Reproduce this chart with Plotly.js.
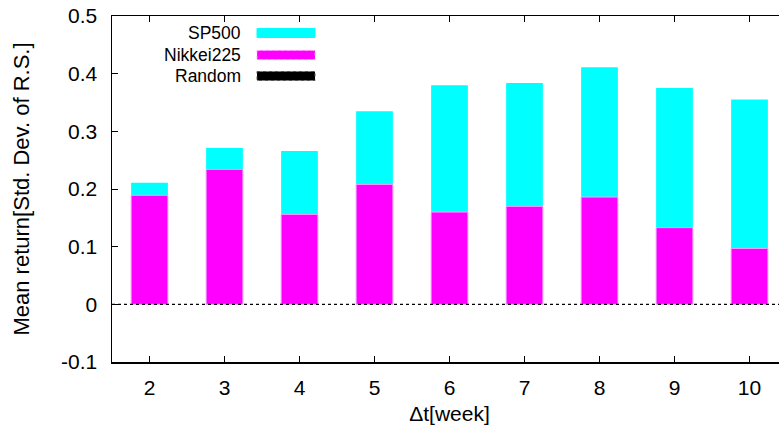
<!DOCTYPE html>
<html>
<head>
<meta charset="utf-8">
<script src="https://cdn.plot.ly/plotly-3.0.1.min.js"></script>
<style>
html, body { margin: 0; padding: 0; overflow: hidden; background: #ffffff; }
#chart { width: 787px; height: 432px; }
</style>
</head>
<body>
<div id="chart"></div>
<script>
// ---- data ----
const weeks = [2, 3, 4, 5, 6, 7, 8, 9, 10];
const sp500 = [0.211, 0.271, 0.266, 0.335, 0.380, 0.384, 0.411, 0.375, 0.355];
const nikkei225 = [0.189, 0.234, 0.156, 0.208, 0.160, 0.170, 0.186, 0.133, 0.097];
const random = [0, 0, 0, 0, 0, 0, 0, 0, 0];
const seriesNames = ["SP500", "Nikkei225", "Random"];
const yTicks = [-0.1, 0, 0.1, 0.2, 0.3, 0.4, 0.5];
const yTickLabels = ["-0.1", "0", "0.1", "0.2", "0.3", "0.4", "0.5"];

// ---- geometry helpers (pixel -> paper) ----
const W = 787, H = 432, ML = 112, MR = 0, MT = 16, MB = 70;
const PW = W - ML - MR, PH = H - MT - MB;
const fx = px => (px - ML) / PW;
const fy = py => 1 - (py - MT) / PH;

const FONT = "Liberation Sans, Arial, Helvetica, sans-serif";
const CYAN = "#00ffff", MAGENTA = "#ff00ff";

const traces = [
  { type: "bar", name: seriesNames[0], x: weeks, y: sp500, width: 0.49,
    marker: { color: CYAN, line: { width: 0 } } },
  { type: "bar", name: seriesNames[1], x: weeks, y: nikkei225, width: 0.49,
    marker: { color: MAGENTA, line: { color: "#ff9cff", width: 1 } } },
  { type: "bar", name: seriesNames[2], x: weeks, y: random, width: 0.49,
    marker: { color: "#000000", line: { width: 0 } } }
];

// custom gnuplot-style legend (text on left, sample on right)
const legendRows = [
  { y: 33, fill: CYAN, line: CYAN, dash: "solid" },
  { y: 55, fill: MAGENTA, line: "#ff9cff", dash: "dot" },
  { y: 76, fill: "#000000", line: "#555555", dash: "dot" }
];
const annotations = legendRows.map((r, i) => ({
  xref: "paper", yref: "paper", x: fx(243), y: fy(r.y),
  xanchor: "right", yanchor: "middle", showarrow: false,
  text: seriesNames[i], font: { family: FONT, size: 17.5, color: "#000" }
}));
const shapes = legendRows.map(r => ({
  type: "rect", xref: "paper", yref: "paper",
  x0: fx(257), x1: fx(315), y0: fy(r.y - 4.5), y1: fy(r.y + 4.5),
  fillcolor: r.fill, line: { color: r.line, width: 1, dash: r.dash }
}));
// dotted zero axis
shapes.push({
  type: "line", xref: "paper", yref: "y", x0: 0, x1: 1, y0: 0, y1: 0,
  line: { color: "#000", width: 1.2, dash: "dot" }, layer: "above"
});

const layout = {
  width: W, height: H,
  margin: { l: ML, r: MR, t: MT, b: MB, pad: 0 },
  paper_bgcolor: "#fff", plot_bgcolor: "#fff",
  barmode: "overlay",
  showlegend: false,
  font: { family: FONT, size: 21, color: "#000" },
  xaxis: {
    range: [1.5, 10.5], tickmode: "array", tickvals: weeks,
    ticktext: weeks.map(String),
    ticks: "inside", ticklen: 6, tickwidth: 1, tickcolor: "#000",
    showline: true, linecolor: "#000", linewidth: 1.5, mirror: "ticks",
    showgrid: false, zeroline: false,
    ticklabelstandoff: 6,
    tickfont: { family: FONT, size: 21 },
    title: { text: "\u0394t[week]", font: { family: FONT, size: 21 }, standoff: 8 }
  },
  yaxis: {
    range: [-0.1, 0.5], tickmode: "array", tickvals: yTicks, ticktext: yTickLabels,
    ticks: "inside", ticklen: 6, tickwidth: 1, tickcolor: "#000",
    showline: true, linecolor: "#000", linewidth: 1.5, mirror: "ticks",
    showgrid: false, zeroline: false,
    ticklabelstandoff: 9,
    tickfont: { family: FONT, size: 21 },
    title: { text: "Mean return[Std. Dev. of R.S.]", font: { family: FONT, size: 22 }, standoff: 25 }
  },
  annotations: annotations,
  shapes: shapes
};

Plotly.newPlot("chart", traces, layout, { displayModeBar: false, staticPlot: true });
</script>
</body>
</html>
